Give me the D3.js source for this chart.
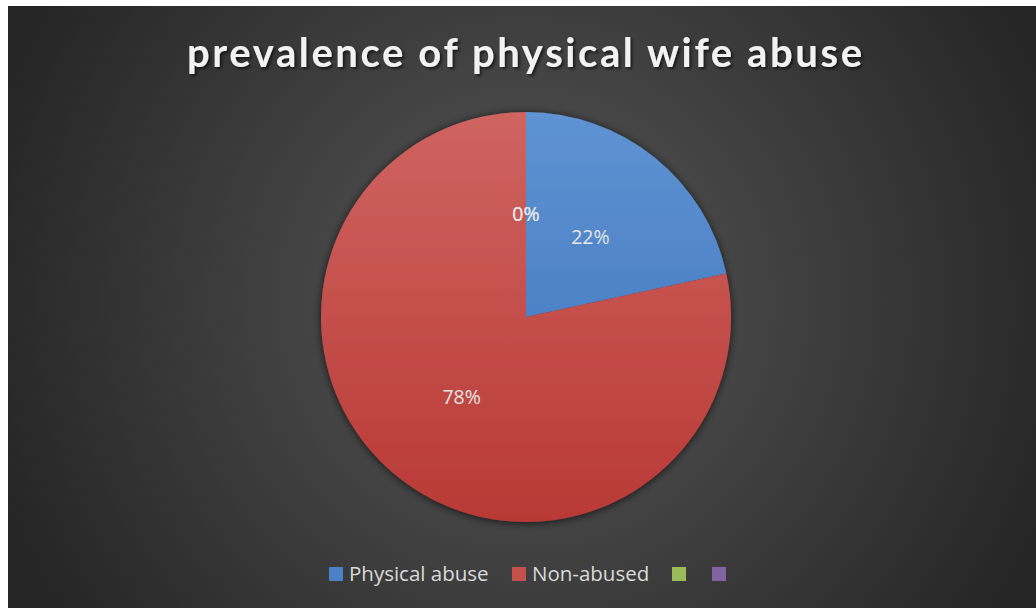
<!DOCTYPE html>
<html>
<head>
<meta charset="utf-8">
<script src="https://cdn.jsdelivr.net/npm/d3@7"></script>
<style>
  html, body { margin: 0; padding: 0; background: #fff; }
  svg { display: block; }
</style>
</head>
<body>
<svg id="chart"></svg>
<script>
const title = "prevalence of physical wife abuse";
const categories = ["Physical abuse", "Non-abused", "", ""];
const values = [21.6, 78.4, 0, 0];
const colorsTop = ["#5e93d3", "#cf6461", "#9bbb59", "#8064a2"];
const colorsBottom = ["#3b70b8", "#b93935", "#9bbb59", "#8064a2"];
const legendColors = ["#4a80c6", "#c4504c", "#9bbb59", "#8064a2"];

const width = 1036;
const height = 608;
const cx = 526, cy = 317, radius = 205;

const svg = d3.select("#chart")
  .attr("width", width)
  .attr("height", height);

const defs = svg.append("defs");

const bg = defs.append("radialGradient")
  .attr("id", "bg")
  .attr("gradientUnits", "userSpaceOnUse")
  .attr("cx", 526).attr("cy", 300).attr("r", 560);
bg.append("stop").attr("offset", "0%").attr("stop-color", "#575757");
bg.append("stop").attr("offset", "100%").attr("stop-color", "#262626");

values.forEach((v, i) => {
  const g = defs.append("linearGradient")
    .attr("id", "slice" + i)
    .attr("gradientUnits", "userSpaceOnUse")
    .attr("x1", 0).attr("y1", -radius)
    .attr("x2", 0).attr("y2", radius);
  g.append("stop").attr("offset", "0%").attr("stop-color", colorsTop[i]);
  g.append("stop").attr("offset", "100%").attr("stop-color", colorsBottom[i]);
});

const shadow = defs.append("filter")
  .attr("id", "shadow")
  .attr("x", "-20%").attr("y", "-20%").attr("width", "140%").attr("height", "140%");
shadow.append("feGaussianBlur").attr("in", "SourceAlpha").attr("stdDeviation", 4);
shadow.append("feOffset").attr("dx", 0).attr("dy", 1).attr("result", "blur");
shadow.append("feComponentTransfer").append("feFuncA").attr("type", "linear").attr("slope", 0.7);
const merge = shadow.append("feMerge");
merge.append("feMergeNode");
merge.append("feMergeNode").attr("in", "SourceGraphic");

const tshadow = defs.append("filter").attr("id", "tshadow")
  .attr("x", "-5%").attr("y", "-20%").attr("width", "110%").attr("height", "150%");
tshadow.append("feGaussianBlur").attr("in", "SourceAlpha").attr("stdDeviation", 1.5);
tshadow.append("feOffset").attr("dx", 2).attr("dy", 2);
tshadow.append("feComponentTransfer").append("feFuncA").attr("type", "linear").attr("slope", 0.6);
const tm = tshadow.append("feMerge");
tm.append("feMergeNode");
tm.append("feMergeNode").attr("in", "SourceGraphic");

// chart area
svg.append("rect")
  .attr("x", 8).attr("y", 6)
  .attr("width", width - 8).attr("height", height - 6)
  .attr("fill", "url(#bg)");

// title
const titleText = svg.append("text")
  .attr("x", 524.5).attr("y", 67)
  .attr("text-anchor", "middle")
  .attr("fill", "#f2f2f2")
  .attr("font-family", "Lato, sans-serif")
  .attr("font-weight", 700)
  .attr("font-size", 40)
  .attr("filter", "url(#tshadow)")
  .text(title);
// spread letters to fit the title width of the original
const baseW = titleText.node().getComputedTextLength();
const ls = (675 - baseW) / (title.length - 1);
titleText.attr("letter-spacing", ls).attr("x", 524.5 + ls / 2);

// pie
const pie = d3.pie().sort(null).value(d => d)(values);
const arc = d3.arc().innerRadius(0).outerRadius(radius);
const labelArc = d3.arc().innerRadius(radius * 0.5).outerRadius(radius * 0.5);

const g = svg.append("g").attr("transform", `translate(${cx},${cy})`);

g.append("g")
  .attr("filter", "url(#shadow)")
  .selectAll("path")
  .data(pie)
  .join("path")
  .attr("d", arc)
  .attr("fill", (d, i) => `url(#slice${i})`);

const fmt = d3.format(".0%");
const total = d3.sum(values);
g.selectAll("text.label")
  .data(pie)
  .join("text")
  .attr("class", "label")
  .attr("transform", d => `translate(${labelArc.centroid(d)})`)
  .attr("text-anchor", "middle")
  .attr("dy", "0.35em")
  .attr("fill", "#e6e6e6")
  .attr("font-family", "'Open Sans', sans-serif")
  .attr("font-size", 19.5)
  .text(d => fmt(d.data / total));

// legend
const legendX = [329, 512, 672, 712];
const item = svg.append("g")
  .selectAll("g")
  .data(categories)
  .join("g")
  .attr("transform", (d, i) => `translate(${legendX[i]},567)`);
item.append("rect")
  .attr("width", 14).attr("height", 14)
  .attr("fill", (d, i) => legendColors[i]);
item.append("text")
  .attr("x", 20).attr("y", 7)
  .attr("dy", "0.36em")
  .attr("fill", "#d9d9d9")
  .attr("font-family", "'Open Sans', sans-serif")
  .attr("font-size", 20.5)
  .text(d => d);
</script>
</body>
</html>
